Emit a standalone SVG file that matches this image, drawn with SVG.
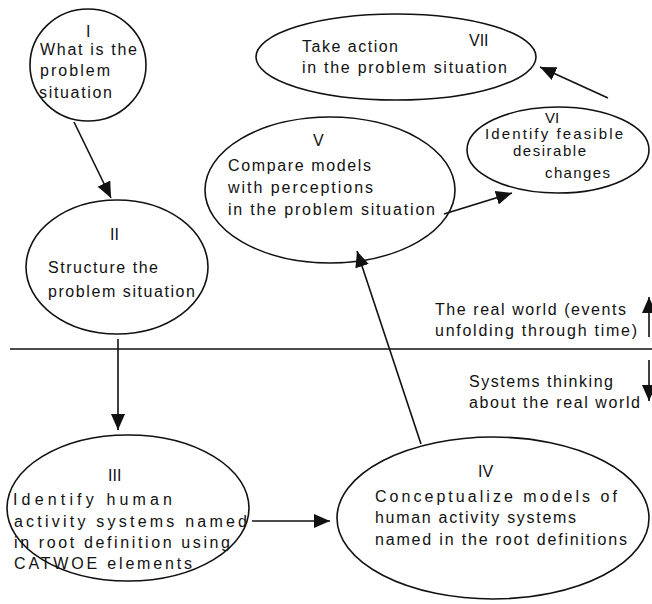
<svg xmlns="http://www.w3.org/2000/svg" width="652" height="604" viewBox="0 0 652 604">
<style>
.n{fill:none;stroke:#111;stroke-width:1.6}
.t{font-family:"Liberation Sans",Arial,sans-serif;font-size:16px;fill:#111}
.s{font-size:15px}
.c{stroke:#111;stroke-width:1.6;fill:none;marker-end:url(#ah)}
</style>
<defs>
<marker id="ah" markerUnits="userSpaceOnUse" markerWidth="18" markerHeight="14" refX="16" refY="7" orient="auto">
<path d="M0,0 L16,7 L0,14 Z" fill="#111"/>
</marker>
</defs>
<rect width="652" height="604" fill="#fff"/>
<line x1="10" y1="349" x2="652" y2="349" stroke="#111" stroke-width="1.6"/>
<g id="n1">
<ellipse class="n" cx="88" cy="65" rx="58" ry="56"/>
<text class="t" x="86" y="37">I</text>
<text class="t" x="40" y="55" textLength="97">What is the</text>
<text class="t" x="40" y="76" textLength="70">problem</text>
<text class="t" x="39" y="98" textLength="73">situation</text>
</g>
<g id="n2">
<ellipse class="n" cx="117" cy="267" rx="91" ry="67"/>
<text class="t" x="110" y="240">II</text>
<text class="t" x="48" y="273" textLength="110">Structure the</text>
<text class="t" x="48" y="297" textLength="147">problem situation</text>
</g>
<g id="n3">
<ellipse class="n" cx="128" cy="508" rx="121" ry="73"/>
<text class="t" x="108" y="481">III</text>
<text class="t" x="13" y="505" textLength="159">Identify human</text>
<text class="t" x="14" y="527" textLength="233">activity systems named</text>
<text class="t" x="14" y="548" textLength="216">in root definition using</text>
<text class="t" x="14" y="569" textLength="178">CATWOE elements</text>
</g>
<g id="n4">
<ellipse class="n" cx="493" cy="518" rx="156" ry="81"/>
<text class="t" x="478" y="477">IV</text>
<text class="t" x="375" y="502" textLength="242">Conceptualize models of</text>
<text class="t" x="375" y="523" textLength="201">human activity systems</text>
<text class="t" x="375" y="545" textLength="252">named in the root definitions</text>
</g>
<g id="n5">
<ellipse class="n" cx="330" cy="190" rx="125" ry="73"/>
<text class="t" x="313" y="146">V</text>
<text class="t" x="228" y="171" textLength="143">Compare models</text>
<text class="t" x="228" y="193" textLength="145">with perceptions</text>
<text class="t" x="228" y="215" textLength="207">in the problem situation</text>
</g>
<g id="n6">
<ellipse class="n" cx="558" cy="150" rx="91" ry="43"/>
<text class="t s" x="545" y="123">VI</text>
<text class="t s" x="485" y="139" textLength="138">Identify feasible</text>
<text class="t s" x="513" y="156" textLength="73">desirable</text>
<text class="t s" x="545" y="178" textLength="65">changes</text>
</g>
<g id="n7">
<ellipse class="n" cx="396" cy="57" rx="140" ry="43"/>
<text class="t" x="302" y="52" textLength="96">Take action</text>
<text class="t" x="469" y="46">VII</text>
<text class="t" x="302" y="73" textLength="205">in the problem situation</text>
</g>
<g id="labels">
<text class="t" x="435" y="315" textLength="191">The real world (events</text>
<text class="t" x="435" y="336" textLength="202">unfolding through time)</text>
<text class="t" x="469" y="387" textLength="144">Systems thinking</text>
<text class="t" x="469" y="408" textLength="171">about the real world</text>
</g>
<g id="connectors">
<line class="c" x1="74" y1="122" x2="111" y2="198"/>
<line class="c" x1="118" y1="339" x2="118" y2="430"/>
<line class="c" x1="252" y1="521" x2="330" y2="521"/>
<line class="c" x1="421" y1="444" x2="357" y2="251"/>
<line class="c" x1="444" y1="214" x2="512" y2="193"/>
<line class="c" x1="608" y1="98" x2="540" y2="67"/>
<line class="c" x1="649" y1="337" x2="649" y2="297"/>
<line class="c" x1="649" y1="360" x2="649" y2="401"/>
</g>
</svg>
